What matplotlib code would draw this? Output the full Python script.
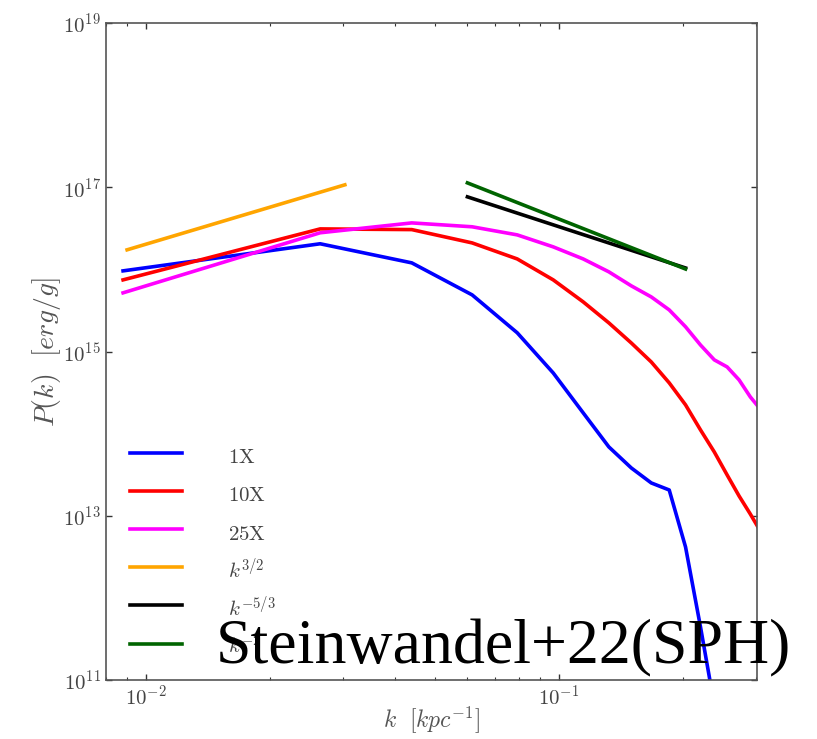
import numpy as np
import matplotlib
matplotlib.use("Agg")
from matplotlib import pyplot as plt
from matplotlib.ticker import NullLocator

plt.rcParams['mathtext.fontset'] = 'cm'
plt.rcParams['font.family'] = 'serif'
plt.rcParams['font.serif'] = ['cmr10', 'DejaVu Serif']
plt.rcParams['axes.unicode_minus'] = False
plt.rcParams['axes.formatter.use_mathtext'] = True

# wavenumber bins (kpc^-1)
k = [0.0088, 0.0264, 0.044, 0.0616, 0.0792, 0.0968, 0.1144, 0.132, 0.1496,
     0.1672, 0.1848, 0.2024, 0.22, 0.2376, 0.2552, 0.2728, 0.2904, 0.308]

# spectra (erg/g)
p_1x = [9.59e15, 2.05e16, 1.20e16, 4.89e15, 1.69e15, 5.48e14, 1.79e14,
        6.89e13, 3.82e13, 2.51e13, 2.06e13, 4.17e12, 4.43e11, 4.95e10]
p_10x = [7.45e15, 3.11e16, 3.05e16, 2.10e16, 1.34e16, 7.45e15, 4.02e15,
         2.23e15, 1.27e15, 7.46e14, 4.15e14, 2.24e14, 1.11e14, 5.98e13,
         3.14e13, 1.74e13, 1.05e13, 6.35e12]
p_25x = [5.18e15, 2.79e16, 3.68e16, 3.30e16, 2.63e16, 1.88e16, 1.34e16,
         9.33e15, 6.30e15, 4.62e15, 3.21e15, 2.00e15, 1.20e15, 7.91e14,
         6.49e14, 4.51e14, 2.80e14, 1.95e14]

# reference slopes
k_32 = [0.009, 0.0303]
p_32 = [1.73e16, 1.07e17]
k_53 = [0.06, 0.2024]
p_53 = [7.64e16, 1.04e16]
k_2 = [0.06, 0.2024]
p_2 = [1.13e17, 1.01e16]

fig = plt.figure(figsize=(8.17, 7.39), dpi=100)
ax = fig.add_axes([0.1297, 0.0798, 0.7969, 0.8891])

lw = 2.6
ax.plot(k[:len(p_1x)], p_1x, color='blue', lw=lw, label=r'$\mathrm{1X}$')
ax.plot(k, p_10x, color='red', lw=lw, label=r'$\mathrm{10X}$')
ax.plot(k, p_25x, color='magenta', lw=lw, label=r'$\mathrm{25X}$')
ax.plot(k_32, p_32, color='orange', lw=lw, label=r'$k^{3/2}$')
ax.plot(k_53, p_53, color='black', lw=lw, label=r'$k^{-5/3}$')
ax.plot(k_2, p_2, color='darkgreen', lw=lw, label=r'$k^{-2}$')

ax.set_xscale('log')
ax.set_yscale('log')
ax.set_xlim(0.0080, 0.3015)
ax.set_ylim(1e11, 1e19)
ax.set_yticks([1e11, 1e13, 1e15, 1e17, 1e19])
ax.yaxis.set_minor_locator(NullLocator())

ax.tick_params(which='both', direction='in', top=True, right=True,
               labelsize=15, labelcolor='#444444', color='#333333')
ax.tick_params(which='major', length=4, width=1)
ax.tick_params(which='minor', length=2.5, width=0.8)
for s in ax.spines.values():
    s.set_color('#555555')
    s.set_linewidth(1.2)

ax.set_xlabel(r'$k\ \ [kpc^{-1}]$', fontsize=17, color='#555555')
ax.set_ylabel(r'$P(k)\ \ [erg/g]$', fontsize=20, color='#555555')
ax.xaxis.set_label_coords(0.5, -0.036)
ax.yaxis.set_label_coords(-0.066, 0.5)

leg = ax.legend(loc='lower left', frameon=False, fontsize=15,
                handlelength=2.5, handleheight=1.7, handletextpad=2.2,
                labelspacing=0.48, borderaxespad=0.5,
                bbox_to_anchor=(0.008, 0.0))
for t in leg.get_texts():
    t.set_color('#444444')

fig.text(216 / 817, 1 - 663 / 739, 'Steinwandel+22(SPH)',
         family='Liberation Serif', fontsize=46, va='baseline', ha='left',
         color='black', zorder=10)

fig.savefig('out.png', dpi=100)
